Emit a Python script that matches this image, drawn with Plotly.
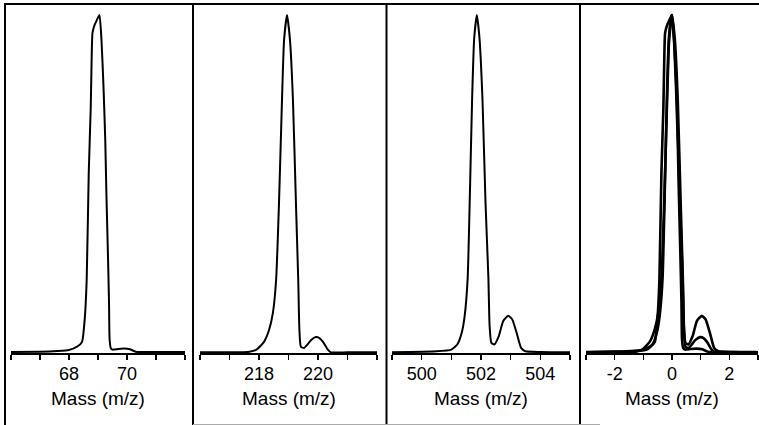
import plotly.graph_objects as go

W, H = 759, 425

# ---- data (mass m/z, relative intensity %) ----
mass_69 = [66.0, 67.0, 67.6, 68.0, 68.3, 68.45, 68.54, 68.61, 68.68, 68.75, 68.78,
           68.81, 68.88, 68.96, 69.05, 69.12, 69.19, 69.25, 69.29, 69.34, 69.38,
           69.40, 69.44, 69.5, 69.7, 69.9, 70.1, 70.3, 71.0, 72.0]
int_69 = [0.3, 0.4, 0.6, 0.9, 2.0, 3.3, 9.8, 21.6, 53.0, 72.8, 86.7,
          94.7, 97.0, 98.5, 100.0, 92.6, 78.7, 63.0, 47.0, 30.0, 15.0,
          4.0, 1.5, 1.0, 1.2, 1.3, 1.1, 0.4, 0.3, 0.3]

mass_219 = [216.0, 217.0, 217.63, 217.9, 218.17, 218.34, 218.47, 218.58, 218.68, 218.78,
            218.85, 218.95, 219.05, 219.15, 219.25, 219.33, 219.37, 219.42, 219.53,
            219.65, 219.76, 219.93, 220.05, 220.17, 220.34, 220.44, 221.0, 222.0]
int_219 = [0.2, 0.2, 0.3, 0.9, 3.3, 6.8, 11.8, 21.6, 45.0, 75.0,
           92.6, 100.0, 92.6, 75.0, 45.0, 21.6, 6.8, 1.8, 1.5,
           2.6, 3.8, 4.7, 4.4, 3.3, 0.9, 0.2, 0.2, 0.2]

mass_502 = [499.0, 500.5, 501.0, 501.2, 501.35, 501.45, 501.55, 501.62, 501.7, 501.77,
            501.86, 501.95, 502.05, 502.15, 502.25, 502.29, 502.35, 502.45, 502.6,
            502.75, 502.92, 503.05, 503.2, 503.35, 503.5, 504.0, 505.0]
int_502 = [0.2, 0.5, 1.0, 2.5, 6.0, 11.0, 22.0, 45.0, 75.0, 93.0,
           100.0, 93.0, 75.0, 45.0, 22.0, 8.0, 3.0, 2.5, 5.0,
           9.5, 11.0, 10.0, 6.0, 1.5, 0.5, 0.3, 0.2]

centres = [69.05, 218.95, 501.88]

ticks_1 = [66, 67, 68, 69, 70, 71, 72]
labels_1 = ["", "", "68", "", "70", "", ""]
ticks_2 = [216, 217, 218, 219, 220, 221, 222]
labels_2 = ["", "", "218", "", "220", "", ""]
ticks_3 = [499, 500, 501, 502, 503, 504, 505]
labels_3 = ["", "500", "", "502", "", "504", ""]
ticks_4 = [-3, -2, -1, 0, 1, 2, 3]
labels_4 = ["", "-2", "", "0", "", "2", ""]

ranges = [[66, 72], [216, 222], [499, 505], [-3, 3]]
x_title = "Mass (m/z)"

# ---- layout geometry (pixels) ----
axis_px = [(11, 185), (200, 377), (392, 570), (586, 758)]
base_px = 353
top_px = 15
borders_x = [5, 193, 386.5, 580]

def px(x):
    return x / W

def py(y):
    return 1 - y / H

fig = go.Figure()

line = dict(color="black", width=2, shape="spline", smoothing=0.5)
line4 = dict(color="black", width=2.6, shape="spline", smoothing=0.5)

fig.add_trace(go.Scatter(x=mass_69, y=int_69, mode="lines", line=line, xaxis="x", yaxis="y"))
fig.add_trace(go.Scatter(x=mass_219, y=int_219, mode="lines", line=line, xaxis="x2", yaxis="y2"))
fig.add_trace(go.Scatter(x=mass_502, y=int_502, mode="lines", line=line, xaxis="x3", yaxis="y3"))
for m, v, c in zip([mass_69, mass_219, mass_502], [int_69, int_219, int_502], centres):
    fig.add_trace(go.Scatter(x=[a - c for a in m], y=v, mode="lines", line=line4,
                             xaxis="x4", yaxis="y4"))

ydom = [py(base_px), py(top_px - 2)]
tick_sets = [(ticks_1, labels_1), (ticks_2, labels_2), (ticks_3, labels_3), (ticks_4, labels_4)]
font = dict(family="Liberation Sans, Arial, sans-serif", size=18, color="black")

layout = dict(width=W, height=H, margin=dict(l=0, r=0, t=0, b=0, autoexpand=False),
              paper_bgcolor="white", plot_bgcolor="white", showlegend=False)
for i in range(4):
    s = "" if i == 0 else str(i + 1)
    tv, tt = tick_sets[i]
    layout["xaxis" + s] = dict(domain=[px(axis_px[i][0]), px(axis_px[i][1])], range=ranges[i],
                               anchor="y" + s, showline=True, linewidth=2, linecolor="black",
                               ticks="outside", ticklen=5, tickwidth=1.5, tickcolor="black",
                               tickvals=tv, ticktext=tt, showgrid=False, zeroline=False,
                               tickfont=font, fixedrange=True, automargin=False,
                               ticklabelstandoff=-2)
    layout["yaxis" + s] = dict(domain=ydom, range=[0, 100 * (base_px - top_px + 2) / (base_px - top_px)],
                               anchor="x" + s, visible=False, showgrid=False, zeroline=False,
                               fixedrange=True, automargin=False)
fig.update_layout(**layout)

shapes = []
for bx in borders_x:
    shapes.append(dict(type="line", xref="paper", yref="paper", x0=px(bx), x1=px(bx),
                       y0=py(4), y1=py(425), line=dict(color="black", width=2)))
shapes.append(dict(type="line", xref="paper", yref="paper", x0=px(4), x1=1,
                   y0=py(4), y1=py(4), line=dict(color="black", width=2)))
shapes.append(dict(type="line", xref="paper", yref="paper", x0=px(193), x1=px(600),
                   y0=py(424.5), y1=py(424.5), line=dict(color="#aaaaaa", width=1)))
fig.update_layout(shapes=shapes)

anns = []
for i in range(4):
    cx = (axis_px[i][0] + axis_px[i][1]) / 2
    anns.append(dict(text=x_title, xref="paper", yref="paper", x=px(cx), y=py(398),
                     xanchor="center", yanchor="middle", showarrow=False,
                     font=dict(family="Liberation Sans, Arial, sans-serif", size=19, color="black")))
fig.update_layout(annotations=anns)

fig.write_html("out.html", config={"displayModeBar": False, "staticPlot": True},
               post_script="document.body.style.margin='0';document.body.style.overflow='hidden';")
